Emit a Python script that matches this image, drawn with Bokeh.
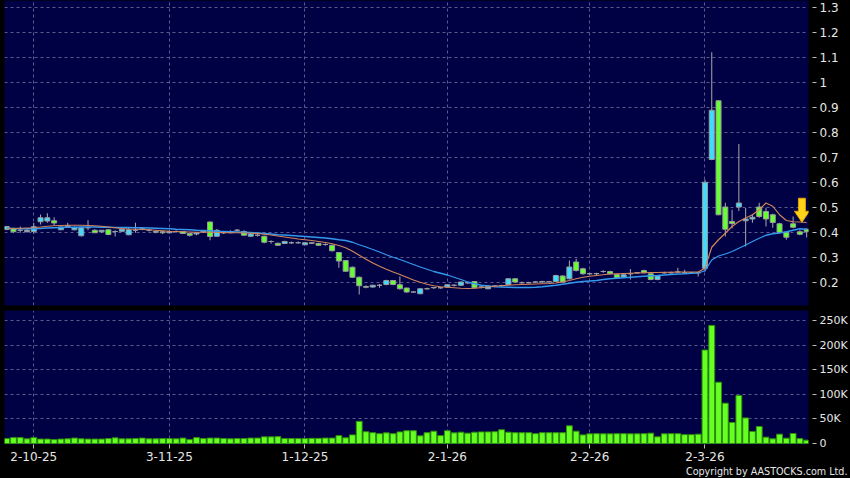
from bokeh.plotting import figure
from bokeh.models import Range1d, FixedTicker, NumeralTickFormatter, ColumnDataSource, Title
from bokeh.layouts import column
from bokeh.embed import file_html
from bokeh.resources import INLINE

# ---------------- data ----------------
open_ = [
    0.413, 0.416, 0.41, 0.405, 0.405, 0.444, 0.447, 0.448, 0.412, 0.425,   # 0-9
    0.412, 0.388, 0.42, 0.41, 0.404, 0.412, 0.405, 0.406, 0.392, 0.41,     # 10-19
    0.414, 0.41, 0.405, 0.404, 0.40, 0.405, 0.405, 0.397, 0.395, 0.403,    # 20-29
    0.443, 0.386, 0.40, 0.40, 0.41, 0.405, 0.386, 0.39, 0.386, 0.365,      # 30-39
    0.358, 0.357, 0.36, 0.36, 0.352, 0.36, 0.357, 0.353, 0.35, 0.321,      # 40-49
    0.289, 0.262, 0.222, 0.185, 0.183, 0.19, 0.193, 0.209, 0.192, 0.179,   # 50-59
    0.163, 0.156, 0.176, 0.18, 0.18, 0.183, 0.19, 0.19, 0.2, 0.205,        # 60-69
    0.183, 0.176, 0.187, 0.189, 0.193, 0.216, 0.2, 0.2, 0.203, 0.203,      # 70-79
    0.204, 0.205, 0.227, 0.216, 0.283, 0.256, 0.236, 0.236, 0.245, 0.245,  # 80-89
    0.233, 0.223, 0.236, 0.24, 0.249, 0.236, 0.213, 0.24, 0.24, 0.243,     # 90-99
    0.24, 0.24, 0.24, 0.258, 0.693, 0.928, 0.503, 0.445, 0.503, 0.448,     # 100-109
    0.455, 0.503, 0.485, 0.472, 0.436, 0.402, 0.436, 0.404, 0.414,         # 110-118
]
high = [
    0.427, 0.42, 0.425, 0.415, 0.44, 0.473, 0.478, 0.462, 0.425, 0.44,
    0.425, 0.425, 0.45, 0.414, 0.41, 0.415, 0.41, 0.415, 0.42, 0.44,
    0.42, 0.415, 0.41, 0.408, 0.41, 0.41, 0.407, 0.40, 0.40, 0.41,
    0.445, 0.415, 0.405, 0.41, 0.415, 0.41, 0.40, 0.395, 0.388, 0.37,
    0.36, 0.368, 0.365, 0.365, 0.362, 0.362, 0.36, 0.358, 0.352, 0.322,
    0.29, 0.265, 0.225, 0.19, 0.192, 0.195, 0.212, 0.21, 0.225, 0.18,
    0.166, 0.178, 0.18, 0.183, 0.183, 0.195, 0.193, 0.205, 0.203, 0.207,
    0.186, 0.19, 0.19, 0.192, 0.218, 0.218, 0.205, 0.204, 0.206, 0.208,
    0.207, 0.232, 0.23, 0.289, 0.296, 0.26, 0.24, 0.24, 0.25, 0.248,
    0.236, 0.235, 0.255, 0.243, 0.252, 0.238, 0.23, 0.244, 0.245, 0.26,
    0.252, 0.243, 0.243, 0.613, 1.122, 0.93, 0.52, 0.492, 0.755, 0.499,
    0.475, 0.52, 0.50, 0.476, 0.44, 0.405, 0.465, 0.41, 0.418,
]
low = [
    0.41, 0.40, 0.40, 0.40, 0.396, 0.433, 0.44, 0.43, 0.41, 0.42,
    0.41, 0.385, 0.41, 0.40, 0.40, 0.39, 0.385, 0.403, 0.39, 0.40,
    0.41, 0.405, 0.398, 0.395, 0.398, 0.40, 0.395, 0.385, 0.39, 0.40,
    0.37, 0.385, 0.395, 0.398, 0.405, 0.39, 0.383, 0.385, 0.358, 0.356,
    0.35, 0.355, 0.355, 0.356, 0.35, 0.355, 0.348, 0.348, 0.325, 0.26,
    0.245, 0.22, 0.153, 0.178, 0.18, 0.18, 0.19, 0.19, 0.173, 0.16,
    0.16, 0.155, 0.172, 0.175, 0.176, 0.18, 0.185, 0.188, 0.195, 0.178,
    0.178, 0.174, 0.183, 0.185, 0.19, 0.2, 0.197, 0.197, 0.2, 0.2,
    0.2, 0.203, 0.2, 0.213, 0.245, 0.232, 0.232, 0.23, 0.24, 0.234,
    0.218, 0.22, 0.213, 0.236, 0.238, 0.21, 0.21, 0.236, 0.236, 0.24,
    0.236, 0.235, 0.225, 0.245, 0.69, 0.47, 0.385, 0.418, 0.487, 0.345,
    0.44, 0.46, 0.425, 0.42, 0.398, 0.372, 0.418, 0.39, 0.381,
]
close_ = [
    0.425, 0.404, 0.41, 0.41, 0.424, 0.46, 0.46, 0.439, 0.423, 0.428,
    0.42, 0.42, 0.42, 0.40, 0.41, 0.393, 0.405, 0.414, 0.412, 0.41,
    0.416, 0.41, 0.402, 0.40, 0.405, 0.405, 0.397, 0.39, 0.40, 0.405,
    0.385, 0.41, 0.40, 0.405, 0.41, 0.39, 0.395, 0.39, 0.362, 0.365,
    0.35, 0.365, 0.36, 0.36, 0.36, 0.358, 0.35, 0.353, 0.328, 0.287,
    0.246, 0.222, 0.188, 0.182, 0.19, 0.19, 0.209, 0.193, 0.176, 0.163,
    0.163, 0.176, 0.176, 0.181, 0.18, 0.192, 0.19, 0.203, 0.2, 0.18,
    0.183, 0.187, 0.187, 0.189, 0.216, 0.203, 0.2, 0.2, 0.203, 0.205,
    0.204, 0.229, 0.203, 0.263, 0.249, 0.236, 0.236, 0.237, 0.245, 0.236,
    0.22, 0.232, 0.236, 0.24, 0.24, 0.213, 0.227, 0.24, 0.24, 0.243,
    0.24, 0.24, 0.24, 0.602, 0.89, 0.472, 0.414, 0.437, 0.519, 0.455,
    0.462, 0.465, 0.455, 0.441, 0.401, 0.382, 0.422, 0.394, 0.404,
]
volume_k = [
    10, 12, 12, 9.5, 12, 9, 9, 8, 9, 9.5,
    11, 9.5, 9, 9, 9, 10, 11.5, 9.5, 9.5, 10,
    11, 9.5, 9.5, 10, 10, 9.5, 11, 8, 12, 10,
    11, 11, 10, 9.5, 10, 10, 11, 11, 13.5, 13.5,
    14, 10, 10, 10, 10, 10.5, 10.5, 11, 11, 16,
    11.5, 17.5, 45, 24, 22, 20, 21.6, 20, 23.6, 26,
    26, 15.5, 22, 25, 16, 26, 21.6, 23, 21, 23,
    23.6, 23.6, 24, 28, 23, 22, 22, 22, 20, 22,
    22, 22, 22, 36, 25, 17.5, 19.6, 20, 19.6, 19.6,
    20, 20, 19.6, 19.6, 20, 21, 13.5, 19.6, 20, 20,
    18, 18, 19, 190, 240, 124.6, 82, 42.7, 97.6, 52,
    24.4, 34.5, 12.9, 9.5, 19, 10.8, 20.3, 10, 6.8,
]
ma10 = [
    0.418, 0.417, 0.418, 0.419, 0.42, 0.423, 0.426, 0.428, 0.429, 0.43,
    0.43, 0.43, 0.429, 0.428, 0.426, 0.423, 0.42, 0.417, 0.415, 0.414,
    0.413, 0.412, 0.41, 0.408, 0.406, 0.405, 0.404, 0.403, 0.402, 0.402,
    0.402, 0.401, 0.401, 0.40, 0.40, 0.399, 0.398, 0.397, 0.394, 0.391,
    0.387, 0.383, 0.379, 0.375, 0.372, 0.369, 0.365, 0.361, 0.356, 0.349,
    0.34, 0.326, 0.31, 0.294, 0.279, 0.266, 0.254, 0.243, 0.233, 0.222,
    0.211, 0.202, 0.194, 0.188, 0.184, 0.182, 0.18, 0.178, 0.177, 0.178,
    0.18, 0.183, 0.186, 0.188, 0.19, 0.192, 0.193, 0.194, 0.195, 0.196,
    0.197, 0.199, 0.203, 0.209, 0.216, 0.222, 0.226, 0.229, 0.232, 0.235,
    0.236, 0.237, 0.238, 0.239, 0.24, 0.241, 0.241, 0.242, 0.242, 0.243,
    0.243, 0.243, 0.243, 0.258, 0.342, 0.372, 0.398, 0.425, 0.445, 0.459,
    0.472, 0.492, 0.519, 0.506, 0.472, 0.449, 0.444, 0.443, 0.441,
]
ma20 = [
    0.418, 0.417, 0.416, 0.416, 0.416, 0.417, 0.419, 0.42, 0.421, 0.422,
    0.422, 0.423, 0.423, 0.423, 0.422, 0.422, 0.421, 0.421, 0.421, 0.42,
    0.42, 0.419, 0.418, 0.417, 0.416, 0.414, 0.413, 0.412, 0.41, 0.409,
    0.408, 0.406, 0.405, 0.404, 0.403, 0.402, 0.401, 0.399, 0.397, 0.395,
    0.392, 0.391, 0.389, 0.387, 0.385, 0.383, 0.381, 0.379, 0.376, 0.372,
    0.369, 0.362, 0.352, 0.343, 0.333, 0.323, 0.312, 0.302, 0.293, 0.283,
    0.273, 0.263, 0.254, 0.245, 0.238, 0.231, 0.222, 0.213, 0.203, 0.196,
    0.19, 0.187, 0.184, 0.183, 0.182, 0.181, 0.181, 0.181, 0.182, 0.184,
    0.187, 0.19, 0.194, 0.198, 0.202, 0.205, 0.207, 0.209, 0.213, 0.216,
    0.218, 0.22, 0.222, 0.224, 0.226, 0.228, 0.229, 0.231, 0.233, 0.235,
    0.236, 0.238, 0.239, 0.248, 0.291, 0.307, 0.315, 0.325, 0.338, 0.351,
    0.365, 0.378, 0.39, 0.396, 0.399, 0.404, 0.41, 0.416, 0.414,
]
date_tick_index = [4, 24, 44, 65, 86, 103]
date_tick_labels = ["2-10-25", "3-11-25", "1-12-25", "2-1-26", "2-2-26", "2-3-26"]
price_ticks = [0.2, 0.3, 0.4, 0.5, 0.6, 0.7, 0.8, 0.9, 1.0, 1.1, 1.2, 1.3]
vol_ticks = [0, 50000, 100000, 150000, 200000, 250000]
vol_tick_labels = ["0", "50K", "100K", "150K", "200K", "250K"]

# ---------------- styling ----------------
NAVY = "#000044"
GRID = "#5a5a8c"
UP = "#3fdcff"
DOWN = "#66ff33"
FLAT = "#a0a0a0"
FONT = "DejaVu Sans"
LABEL = "#e6e6e6"

n = len(close_)
idx = list(range(n))
colors = [UP if c > o else (DOWN if c < o else FLAT) for o, c in zip(open_, close_)]
src = ColumnDataSource(dict(
    x=idx, high=high, low=low,
    top=[max(o, c) for o, c in zip(open_, close_)],
    bottom=[min(o, c) for o, c in zip(open_, close_)],
    color=colors,
    vol=[v * 1000 for v in volume_k],
    ma10=ma10, ma20=ma20,
))

FRAME_W = 805
PRICE_H = 305
xr = Range1d(-0.32, 118.27)
pr = Range1d(0.109, 1.329)
vr = Range1d(-2030, 270300)


def style_axis(ax, size="12px"):
    ax.axis_line_color = None
    ax.major_tick_line_color = "#bbbbbb"
    ax.major_tick_out = 8
    ax.major_tick_in = -4
    ax.minor_tick_line_color = None
    ax.major_label_text_color = LABEL
    ax.major_label_text_font = FONT
    ax.major_label_text_font_size = size
    ax.major_label_standoff = 3


# ---------------- price panel ----------------
p = figure(width=850, height=310, x_range=xr, y_range=pr,
           output_backend="svg", toolbar_location=None, title=None,
           x_axis_location=None, y_axis_location="right",
           min_border_left=4, min_border_right=41, min_border_top=0, min_border_bottom=5,
           background_fill_color=NAVY, border_fill_color="black", outline_line_color=None)
p.xgrid.ticker = FixedTicker(ticks=date_tick_index)
p.yaxis.ticker = FixedTicker(ticks=price_ticks)
p.yaxis.formatter = NumeralTickFormatter(format="0.[0]")
style_axis(p.yaxis[0])
for g in (p.xgrid, p.ygrid):
    g.grid_line_color = GRID
    g.grid_line_dash = "3 3"
    g.grid_line_width = 1

p.segment(x0="x", y0="low", x1="x", y1="high", source=src, line_color="#aaaaaa", line_width=1)
p.vbar(x="x", width=0.74, top="top", bottom="bottom", source=src,
       fill_color="color", line_color="#9a9a9a", line_width=1)
p.line(x="x", y="ma20", source=src, line_color="#3399ee", line_width=1.3)
p.line(x="x", y="ma10", source=src, line_color="#d2845a", line_width=1.2)

# marker arrow pointing at the latest bar
px_x = FRAME_W / (xr.end - xr.start)
px_y = PRICE_H / (pr.end - pr.start)
ax0 = idx[-1] - 0.7
ay0 = ma10[-1] + 0.001
shape = [(0, 0), (-7.5, 11), (-3.5, 11), (-3.5, 24), (3.5, 24), (3.5, 11), (7.5, 11)]
p.patch([ax0 + dx / px_x for dx, dy in shape], [ay0 + dy / px_y for dx, dy in shape],
        fill_color="#ffd21a", line_color="#e0a000", line_width=1)

# ---------------- volume panel ----------------
v = figure(width=850, height=168, x_range=xr, y_range=vr,
           output_backend="svg", toolbar_location=None, title=None,
           y_axis_location="right",
           min_border_left=4, min_border_right=41, min_border_top=0, min_border_bottom=34,
           background_fill_color=NAVY, border_fill_color="black", outline_line_color=None)
v.xaxis.ticker = FixedTicker(ticks=date_tick_index)
v.xaxis.major_label_overrides = dict(zip(date_tick_index, date_tick_labels))
v.yaxis.ticker = FixedTicker(ticks=vol_ticks)
v.yaxis.major_label_overrides = dict(zip(vol_ticks, vol_tick_labels))
style_axis(v.yaxis[0], "11px")
style_axis(v.xaxis[0], "12px")
v.xaxis.major_tick_out = 4
v.xaxis.major_tick_in = 0
v.xaxis.major_label_standoff = 3
for g in (v.xgrid, v.ygrid):
    g.grid_line_color = GRID
    g.grid_line_dash = "3 3"
    g.grid_line_width = 1

v.vbar(x="x", width=0.86, top="vol", bottom=0, source=src,
       fill_color="#66ff22", line_color="#2f8f0a", line_width=1)

v.add_layout(Title(text="Copyright by AASTOCKS.com Ltd.", align="right",
                   text_font_size="9.6px", text_font_style="normal",
                   text_color=LABEL, text_font=FONT, standoff=0, offset=-39), "below")

layout = column(p, v, spacing=0, styles={"background-color": "black"})
open("out.html", "w").write(file_html(layout, INLINE))
